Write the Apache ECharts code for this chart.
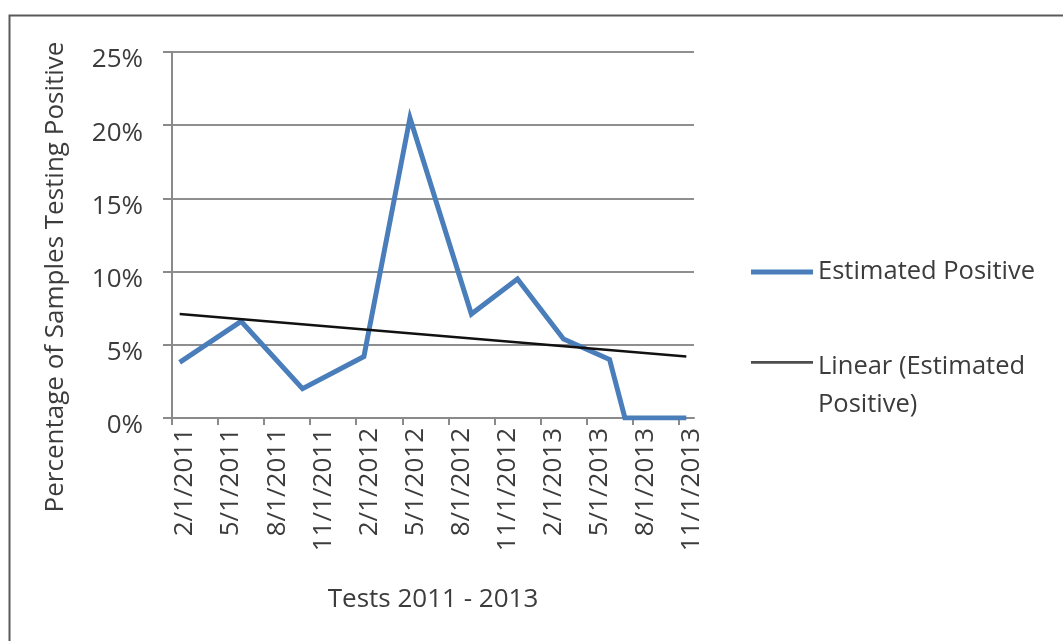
<!DOCTYPE html>
<html>
<head>
<meta charset="utf-8">
<title>Estimated Positive 2011 - 2013</title>
<script src="https://cdn.jsdelivr.net/npm/echarts@6/dist/echarts.min.js"></script>
<style>
  html, body { margin: 0; padding: 0; background: #ffffff; }
  #chart { width: 1063px; height: 641px; }
</style>
</head>
<body>
<div id="chart"></div>
<script>
// Test months (month of sample collection) and share of samples testing positive, in %
const testMonths = ['2011-02', '2011-06', '2011-10', '2012-02', '2012-05', '2012-09',
                    '2012-12', '2013-03', '2013-06', '2013-07', '2013-11'];
const positiveRate = [3.8, 6.6, 2.0, 4.2, 20.5, 7.1, 9.5, 5.4, 4.0, 0, 0];

// Linear trendline end points (first and last test month), in %
const trendMonths = ['2011-02', '2013-11'];
const trendRate = [7.1, 4.2];

// Quarterly date labels along the x axis
const tickLabels = ['2/1/2011', '5/1/2011', '8/1/2011', '11/1/2011', '2/1/2012', '5/1/2012',
                    '8/1/2012', '11/1/2012', '2/1/2013', '5/1/2013', '8/1/2013', '11/1/2013'];

const seriesName = 'Estimated Positive';
const trendName = 'Linear (Estimated Positive)';

// Months counted from Feb 2011; a month's values sit in the middle of its slot
const startYear = 2011, startMonth = 2;
function monthSlot(ym) {
  const [y, m] = ym.split('-').map(Number);
  return (y - startYear) * 12 + (m - startMonth) + 0.5;
}

const textColor = '#3c3c3c';
const fontFamily = '"Open Sans", "DejaVu Sans", sans-serif';

const chart = echarts.init(document.getElementById('chart'), null, { renderer: 'canvas' });

chart.setOption({
  backgroundColor: '#ffffff',
  animation: false,
  textStyle: { fontFamily: fontFamily, color: textColor },
  graphic: [{
    type: 'rect',
    left: 7,
    top: 13,
    shape: { x: 0, y: 0, width: 1100, height: 700 },
    style: { fill: 'none', stroke: '#5a5a5a', lineWidth: 2 },
    silent: true
  }],
  grid: { left: 172, top: 52, width: 522, height: 366, containLabel: false },
  legend: [{
    orient: 'vertical',
    left: 746,
    top: 254,
    itemWidth: 62,
    itemHeight: 5,
    icon: 'rect',
    selectedMode: false,
    textStyle: { fontSize: 25.5, color: textColor, fontFamily: fontFamily },
    data: [{ name: seriesName, itemStyle: { color: '#4a7ebb' } }]
  }, {
    orient: 'vertical',
    left: 746,
    top: 343,
    itemWidth: 62,
    itemHeight: 54,
    // line key drawn along the top of the item so it lines up with the first text line
    icon: 'path://M0,0H63V3H0Z M0,51H0.01V51.01H0Z',
    selectedMode: false,
    formatter: () => 'Linear (Estimated\nPositive)',
    textStyle: { fontSize: 25.5, lineHeight: 38, color: textColor, fontFamily: fontFamily },
    data: [{ name: trendName, itemStyle: { color: '#4d4d4d' } }]
  }],
  xAxis: {
    type: 'value',
    min: 0,
    max: 34,
    interval: 3,
    name: 'Tests 2011 - 2013',
    nameLocation: 'middle',
    nameGap: 169,
    nameTextStyle: { fontSize: 26, color: textColor, fontFamily: fontFamily, verticalAlign: 'top' },
    axisLine: { show: true, lineStyle: { color: '#8a8a8a', width: 2 } },
    axisTick: { show: true, length: 7, lineStyle: { color: '#8a8a8a', width: 2 } },
    splitLine: { show: false },
    axisLabel: {
      rotate: 90,
      margin: 10,
      fontSize: 26,
      color: textColor,
      fontFamily: fontFamily,
      verticalAlign: 'top',
      showMaxLabel: false,
      formatter: v => tickLabels[Math.round(v / 3)] || ''
    }
  },
  yAxis: {
    type: 'value',
    min: 0,
    max: 25,
    interval: 5,
    name: 'Percentage of Samples Testing Positive',
    nameLocation: 'middle',
    nameGap: 103,
    nameRotate: 90,
    nameTextStyle: { fontSize: 26, color: textColor, fontFamily: fontFamily, padding: [0, 84, 0, 0] },
    axisLine: { show: true, lineStyle: { color: '#8a8a8a', width: 2 } },
    axisTick: { show: true, length: 9, lineStyle: { color: '#8a8a8a', width: 2 } },
    splitLine: { show: true, lineStyle: { color: '#8f8f8f', width: 2 } },
    axisLabel: {
      margin: 29,
      fontSize: 26,
      lineHeight: 16,
      verticalAlign: 'top',
      color: textColor,
      fontFamily: fontFamily,
      formatter: '{value}%'
    }
  },
  series: [{
    name: seriesName,
    type: 'line',
    data: testMonths.map((m, i) => [monthSlot(m), positiveRate[i]]),
    showSymbol: false,
    symbol: 'none',
    lineStyle: { color: '#4a7ebb', width: 5, join: 'miter' },
    itemStyle: { color: '#4a7ebb' },
    z: 3
  }, {
    name: trendName,
    type: 'line',
    data: trendMonths.map((m, i) => [monthSlot(m), trendRate[i]]),
    showSymbol: false,
    symbol: 'none',
    lineStyle: { color: '#111111', width: 2.5 },
    itemStyle: { color: '#4d4d4d' },
    z: 4
  }]
});
</script>
</body>
</html>
